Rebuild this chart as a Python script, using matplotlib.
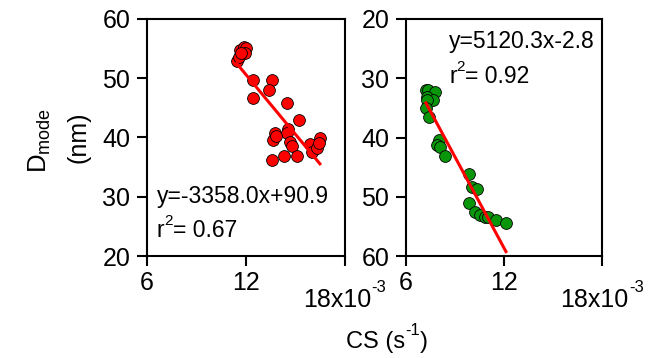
import matplotlib
matplotlib.use("Agg")
import matplotlib.pyplot as plt
import numpy as np

plt.rcParams['font.family'] = ['Liberation Sans', 'DejaVu Sans']
plt.rcParams['mathtext.fontset'] = 'custom'
plt.rcParams['mathtext.rm'] = 'Liberation Sans'
plt.rcParams['mathtext.it'] = 'Liberation Sans'
plt.rcParams['mathtext.default'] = 'regular'

# CS in units of 1e-3 s^-1, D_mode in nm
left_cs = [11.44, 11.58, 11.64, 11.88, 12.0, 11.96, 11.7,
           12.44, 13.56, 13.4, 12.4, 14.5, 15.2, 14.56, 14.5, 13.76, 13.65,
           13.8, 14.67, 14.77, 15.07, 14.3, 13.6, 15.88, 15.98, 16.28, 16.48, 16.4]
left_d = [52.96, 53.6, 54.8, 55.2, 55.05, 54.3, 54.2,
          49.7, 49.7, 48.0, 46.6, 45.9, 43.0, 41.5, 40.8, 40.7, 39.6,
          40.3, 39.3, 38.6, 36.9, 36.9, 36.2, 38.9, 37.6, 38.2, 39.9, 39.0]
left_slope, left_icpt, left_r2 = -3358.0, 90.9, 0.67

right_cs = [7.22, 7.37, 7.78, 7.27, 7.67, 7.3, 7.22, 7.43,
            8.04, 7.88, 8.08, 8.39, 9.86, 10.02, 10.33, 9.86,
            10.22, 10.53, 10.84, 11.04, 11.51, 12.12]
right_d = [32.0, 31.9, 32.4, 33.1, 33.7, 33.7, 35.1, 36.5,
           40.4, 41.3, 41.6, 43.1, 46.2, 48.4, 48.7, 51.0,
           52.5, 53.1, 53.4, 53.5, 53.9, 54.5]
right_slope, right_icpt, right_r2 = 5120.3, -2.8, 0.92

xticks = [6, 12, 18]
xticklabels = ['6', '12', '']
exp_label = ('18x10', '-3')
yticks = [20, 30, 40, 50, 60]

W, H = 668, 358
fig = plt.figure(figsize=(W / 100, H / 100), dpi=100)
renderer = fig.canvas.get_renderer()

TICK_FS = 18
ANN_FS = 16.5
SUP_FS = 11


def px_axes(x0, x1, ytop, ybot):
    return fig.add_axes([x0 / W, 1 - ybot / H, (x1 - x0) / W, (ybot - ytop) / H])


def sup_text(x_px, base_px, parts, ha='left'):
    """parts: list of (string, fontsize, rise_px); coordinates in pixels from top-left."""
    texts, widths = [], []
    for s, fs, rise in parts:
        t = fig.text(0, 0, s, fontsize=fs, va='baseline', ha='left')
        texts.append((t, rise))
        widths.append(t.get_window_extent(renderer).width)
    total = sum(widths)
    x = x_px - (total / 2 if ha == 'center' else 0)
    for (t, rise), w in zip(texts, widths):
        t.set_position((x / W, 1 - (base_px - rise) / H))
        x += w


ax1 = px_axes(147, 345, 19, 256)
ax2 = px_axes(406, 602, 19, 256)


def style(ax):
    ax.set_xlim(6, 18)
    ax.set_xticks(xticks)
    ax.set_xticklabels(xticklabels)
    ax.set_yticks(yticks)
    for s in ax.spines.values():
        s.set_linewidth(1.5)
    ax.tick_params(direction='out', length=7, width=1.5, labelsize=TICK_FS)
    ax.tick_params(axis='y', pad=5)
    ax.tick_params(axis='x', pad=4)


def panel(ax, cs, d, slope, icpt, color):
    ax.scatter(cs, d, s=72, c=color, edgecolors='black', linewidths=0.6, zorder=3)
    xs = np.array([min(cs), max(cs)])
    ax.plot(xs, slope * xs * 1e-3 + icpt, color='#ff0000', lw=2.2, zorder=4)


style(ax1)
ax1.set_ylim(20, 60)
panel(ax1, left_cs, left_d, left_slope, left_icpt, '#ff0000')

style(ax2)
ax2.set_ylim(60, 20)
panel(ax2, right_cs, right_d, right_slope, right_icpt, '#0a960a')

# equations
sup_text(157, 203, [('y=%.1fx+%.1f' % (left_slope, left_icpt), ANN_FS, 0)])
sup_text(157, 237, [('r', ANN_FS, 0), ('2', SUP_FS, 12), ('= %.2f' % left_r2, ANN_FS, 0)])
sup_text(449, 48, [('y=%.1fx%.1f' % (right_slope, right_icpt), ANN_FS, 0)])
sup_text(449, 83, [('r', ANN_FS, 0), ('2', SUP_FS, 12), ('= %.2f' % right_r2, ANN_FS, 0)])

# exponent tick labels at x=18
for x_px in (345, 602):
    sup_text(x_px, 307, [(exp_label[0], TICK_FS, 0), (exp_label[1], SUP_FS + 1, 15)], ha='center')

# axis labels
fig.text(40 / W, 1 - 140 / H, 'D$_{mode}$', rotation=90, ha='center', va='center', fontsize=18.5)
fig.text(79 / W, 1 - 137 / H, '(nm)', rotation=90, ha='center', va='center', fontsize=18)
sup_text(387, 348, [('CS (s', ANN_FS + 0.5, 0), ('-1', SUP_FS + 1, 13), (')', ANN_FS + 0.5, 0)], ha='center')

fig.savefig('out.png', dpi=100)
